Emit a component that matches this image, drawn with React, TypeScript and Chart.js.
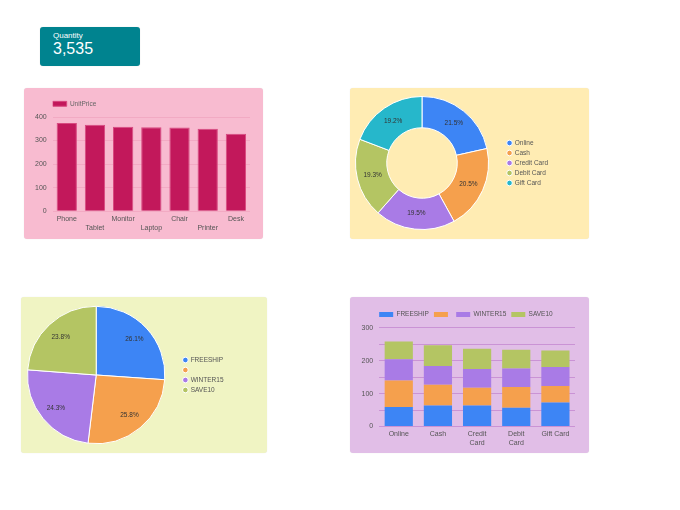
import React, { useEffect, useRef } from "react";
import { Chart, registerables } from "chart.js";

Chart.register(...registerables);

const FONT = 'Arial, "Liberation Sans", Helvetica, sans-serif';
Chart.defaults.font.family = FONT;
Chart.defaults.color = "#555";

// ---------- data ----------
const kpiLabel = "Quantity";
const kpiValue = "3,535";

const products = ["Phone", "Tablet", "Monitor", "Laptop", "Chair", "Printer", "Desk"];
const unitPrices = [374, 367, 359, 357, 355, 350, 329];
const priceTicks = [0, 100, 200, 300, 400];

const paymentMethods = ["Online", "Cash", "Credit Card", "Debit Card", "Gift Card"];
const paymentShares = [21.5, 20.5, 19.5, 19.3, 19.2];
const paymentColors = ["#3d85f5", "#f5a04d", "#a97be6", "#b4c563", "#26b7cb"];

const promoCodes = ["FREESHIP", "", "WINTER15", "SAVE10"];
const promoShares = [26.1, 25.8, 24.3, 23.8];
const promoColors = ["#3d85f5", "#f5a04d", "#a97be6", "#b4c563"];

const methodAxisLabels = [["Online"], ["Cash"], ["Credit", "Card"], ["Debit", "Card"], ["Gift Card"]];
const freeshipByMethod = [59, 64, 64, 57, 73];
const blankCodeByMethod = [81, 63, 54, 63, 50];
const winter15ByMethod = [64, 57, 57, 56, 58];
const save10ByMethod = [54, 63, 61, 57, 50];
const stackTicks = [0, 100, 200, 300];

// ---------- plugins ----------
const percentLabels = {
  id: "percentLabels",
  afterDatasetsDraw(chart: any, _args: any, opts: any) {
    const meta = chart.getDatasetMeta(0);
    const values = chart.data.datasets[0].data as number[];
    const ctx = chart.ctx;
    ctx.save();
    ctx.font = `${opts.size ?? 6.5}px ${FONT}`;
    ctx.fillStyle = opts.color ?? "#333";
    ctx.textAlign = "center";
    ctx.textBaseline = "middle";
    meta.data.forEach((arc: any, i: number) => {
      const p = arc.getProps(["x", "y", "startAngle", "endAngle", "innerRadius", "outerRadius"], true);
      const mid = (p.startAngle + p.endAngle) / 2;
      const r = p.innerRadius > 0 ? (p.innerRadius + p.outerRadius) / 2 : p.outerRadius * (opts.factor ?? 0.76);
      ctx.fillText(values[i].toFixed(1) + "%", p.x + Math.cos(mid) * r, p.y + Math.sin(mid) * r);
    });
    ctx.restore();
  },
};

const legendShift = {
  id: "legendShift",
  afterLayout(chart: any, _args: any, opts: any) {
    const lg = chart.legend;
    if (!lg) return;
    const dx = opts.dx || 0;
    lg.left += dx;
    lg.right += dx;
  },
};

// ---------- configs ----------
const tickFont = { size: 7, lineHeight: 1.3 };
const legendFont = { size: 6.5 };

function barConfig(): any {
  return {
    type: "bar",
    data: {
      labels: products.map((p, i) => (i % 2 ? ["", p] : [p])),
      datasets: [
        {
          label: "UnitPrice",
          data: unitPrices,
          backgroundColor: "#c2185b",
          borderColor: "#d84a80",
          borderWidth: 1,
        },
      ],
    },
    options: {
      responsive: false,
      animation: false,
      layout: { padding: { left: 5, right: 13, top: 12.5, bottom: 3.6 } },
      plugins: {
        legend: {
          position: "top",
          align: "start",
          fullSize: false,
          labels: { boxWidth: 14, boxHeight: 5, padding: 0, font: legendFont, color: "#666" },
        },
        tooltip: { enabled: false },
      },
      scales: {
        x: {
          grid: { display: false, drawTicks: false },
          border: { display: false },
          ticks: { autoSkip: false, maxRotation: 0, minRotation: 0, padding: 3, font: tickFont, color: "#555" },
        },
        y: {
          min: 0,
          max: 400,
          border: { display: false },
          grid: { color: "rgba(194,24,91,0.10)", drawTicks: false },
          ticks: {
            stepSize: 50,
            padding: 6,
            font: tickFont,
            color: "#555",
            callback: (v: number) => (priceTicks.includes(v) ? String(v) : ""),
          },
        },
      },
    },
  };
}

function donutConfig(): any {
  return {
    type: "doughnut",
    data: {
      labels: paymentMethods,
      datasets: [{ data: paymentShares, backgroundColor: paymentColors, borderColor: "#ffffff", borderWidth: 1 }],
    },
    options: {
      responsive: false,
      animation: false,
      cutout: "53%",
      layout: { padding: { left: 5, right: 46, top: 7.5, bottom: 8.5 } },
      plugins: {
        legend: {
          position: "right",
          labels: {
            usePointStyle: true,
            pointStyle: "circle",
            boxWidth: 4,
            boxHeight: 4,
            padding: 3.5,
            font: legendFont,
            color: "#555",
          },
        },
        tooltip: { enabled: false },
        percentLabels: { size: 6.5, color: "#333" },
        legendShift: { dx: 15 },
      },
    },
    plugins: [percentLabels, legendShift],
  };
}

function pieConfig(): any {
  return {
    type: "pie",
    data: {
      labels: promoCodes,
      datasets: [{ data: promoShares, backgroundColor: promoColors, borderColor: "#ffffff", borderWidth: 1 }],
    },
    options: {
      responsive: false,
      animation: false,
      layout: { padding: { left: 6, right: 48, top: 8.5, bottom: 8.5 } },
      plugins: {
        legend: {
          position: "right",
          labels: {
            usePointStyle: true,
            pointStyle: "circle",
            boxWidth: 4,
            boxHeight: 4,
            padding: 3.5,
            font: legendFont,
            color: "#555",
          },
        },
        tooltip: { enabled: false },
        percentLabels: { size: 6.5, color: "#333", factor: 0.76 },
        legendShift: { dx: 14.5 },
      },
    },
    plugins: [percentLabels, legendShift],
  };
}

function stackedConfig(): any {
  return {
    type: "bar",
    data: {
      labels: methodAxisLabels,
      datasets: [
        { label: promoCodes[0], data: freeshipByMethod, backgroundColor: promoColors[0] },
        { label: promoCodes[1], data: blankCodeByMethod, backgroundColor: promoColors[1] },
        { label: promoCodes[2], data: winter15ByMethod, backgroundColor: promoColors[2] },
        { label: promoCodes[3], data: save10ByMethod, backgroundColor: promoColors[3] },
      ],
    },
    options: {
      responsive: false,
      animation: false,
      layout: { padding: { left: 5.5, right: 14, top: 9.25, bottom: 2.3 } },
      plugins: {
        legend: {
          position: "top",
          align: "start",
          fullSize: false,
          labels: { boxWidth: 14, boxHeight: 5, padding: 5, font: legendFont, color: "#555" },
        },
        tooltip: { enabled: false },
        legendShift: { dx: -5 },
      },
      scales: {
        x: {
          stacked: true,
          grid: { display: false, drawTicks: false },
          border: { display: false },
          ticks: { autoSkip: false, maxRotation: 0, minRotation: 0, padding: 3, font: tickFont, color: "#555" },
        },
        y: {
          stacked: true,
          min: 0,
          max: 300,
          border: { display: false },
          grid: { color: "rgba(142,36,170,0.28)", drawTicks: false },
          ticks: {
            stepSize: 50,
            padding: 6,
            font: tickFont,
            color: "#555",
            callback: (v: number) => (stackTicks.includes(v) ? String(v) : ""),
          },
        },
      },
    },
    plugins: [legendShift],
  };
}

// ---------- components ----------
function ChartPanel(props: { left: number; top: number; width: number; height: number; bg: string; make: () => any }) {
  const { left, top, width, height, bg, make } = props;
  const ref = useRef<HTMLCanvasElement>(null);
  useEffect(() => {
    const chart = new Chart(ref.current as HTMLCanvasElement, make());
    return () => chart.destroy();
  }, []);
  return (
    <div
      style={{
        position: "absolute",
        left,
        top,
        width,
        height,
        background: bg,
        borderRadius: 3,
        boxShadow: "0 0 1px rgba(0,0,0,0.12)",
      }}
    >
      <canvas ref={ref} width={width} height={height} style={{ display: "block", width, height }} />
    </div>
  );
}

export default function App() {
  return (
    <div style={{ position: "absolute", left: 0, top: 0, width: 680, height: 510, fontFamily: FONT }}>
      <div
        style={{
          position: "absolute",
          left: 40,
          top: 27,
          width: 100,
          height: 39,
          background: "#00838f",
          borderRadius: 3,
          color: "#fff",
          boxShadow: "0 0 1px rgba(0,0,0,0.2)",
        }}
      >
        <div style={{ position: "absolute", left: 13, top: 4, fontSize: 8, lineHeight: "10px" }}>{kpiLabel}</div>
        <div style={{ position: "absolute", left: 13, top: 13, fontSize: 16, lineHeight: "18px" }}>{kpiValue}</div>
      </div>
      <ChartPanel left={24} top={88} width={239} height={151} bg="#f8bbd0" make={barConfig} />
      <ChartPanel left={350} top={88} width={239} height={151} bg="#ffecb3" make={donutConfig} />
      <ChartPanel left={21} top={297} width={246} height={156} bg="#f0f4c3" make={pieConfig} />
      <ChartPanel left={350} top={297} width={239} height={156} bg="#e1bee7" make={stackedConfig} />
    </div>
  );
}
